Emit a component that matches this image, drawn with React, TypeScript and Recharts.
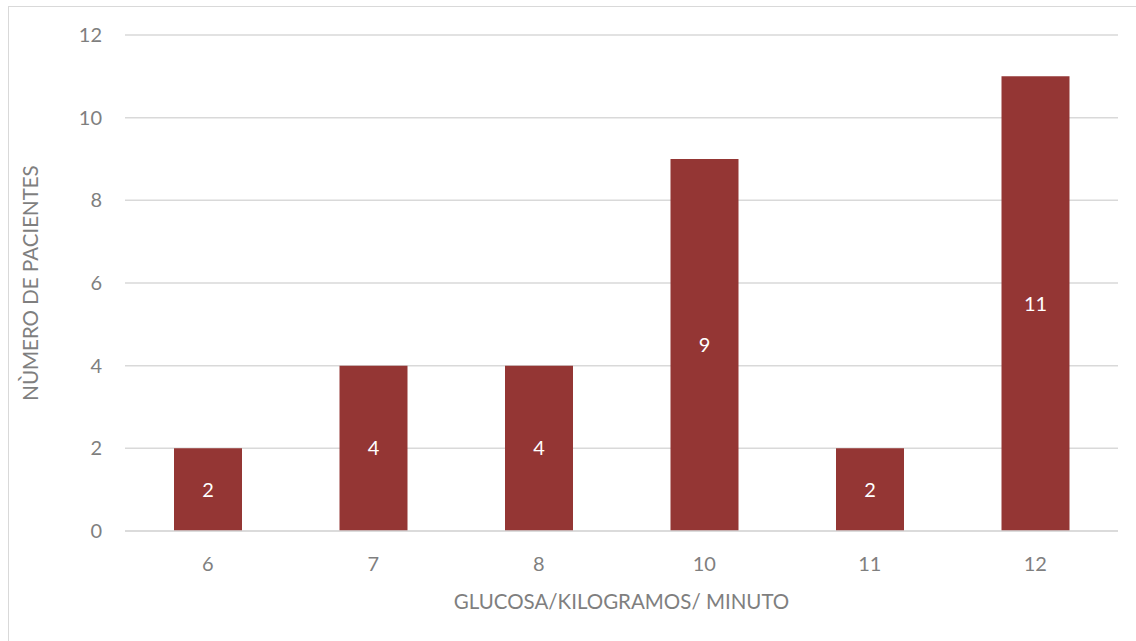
import {
  BarChart,
  Bar,
  XAxis,
  YAxis,
  CartesianGrid,
  LabelList,
} from "recharts";

const categories = ["6", "7", "8", "10", "11", "12"];
const patients = [2, 4, 4, 9, 2, 11];
const yTicks = [0, 2, 4, 6, 8, 10, 12];

const data = categories.map((glucose, i) => ({
  glucose,
  patients: patients[i],
}));

const FONT = "Lato, 'Open Sans', sans-serif";
const GREY = "#7f7f7f";

export default function App() {
  return (
    <div
      style={{
        position: "absolute",
        left: 8,
        top: 6,
        width: 1127,
        height: 634,
        borderTop: "1px solid #d9d9d9",
        borderLeft: "1px solid #d9d9d9",
        background: "#fff",
        fontFamily: FONT,
      }}
    >
      <BarChart
        width={1127}
        height={634}
        data={data}
        margin={{ top: 28, right: 18, bottom: 0, left: 0 }}
      >
        <CartesianGrid vertical={false} stroke="#d9d9d9" strokeWidth={1.5} />
        <XAxis
          dataKey="glucose"
          axisLine={{ stroke: "#d9d9d9", strokeWidth: 1.5 }}
          tickLine={false}
          tickSize={0}
          tickMargin={26}
          tick={{ fill: GREY, fontSize: 20, fontFamily: FONT }}
          label={{
            value: "GLUCOSA/KILOGRAMOS/ MINUTO",
            position: "insideBottom",
            offset: 32,
            fill: GREY,
            fontSize: 20.5,
            fontFamily: FONT,
          }}
          height={110}
        />
        <YAxis
          domain={[0, 12]}
          ticks={yTicks}
          axisLine={false}
          tickLine={false}
          tickSize={0}
          tickMargin={23}
          width={116}
          tick={{ fill: GREY, fontSize: 20, fontFamily: FONT }}
          label={{
            value: "NÙMERO DE PACIENTES",
            angle: -90,
            position: "insideLeft",
            offset: 22,
            style: { textAnchor: "middle" },
            fill: GREY,
            fontSize: 20.5,
            fontFamily: FONT,
          }}
        />
        <Bar
          dataKey="patients"
          fill="#943634"
          barSize={68}
          isAnimationActive={false}
        >
          <LabelList
            dataKey="patients"
            position="center"
            fill="#ffffff"
            fontSize={20}
            fontFamily={FONT}
          />
        </Bar>
      </BarChart>
    </div>
  );
}
